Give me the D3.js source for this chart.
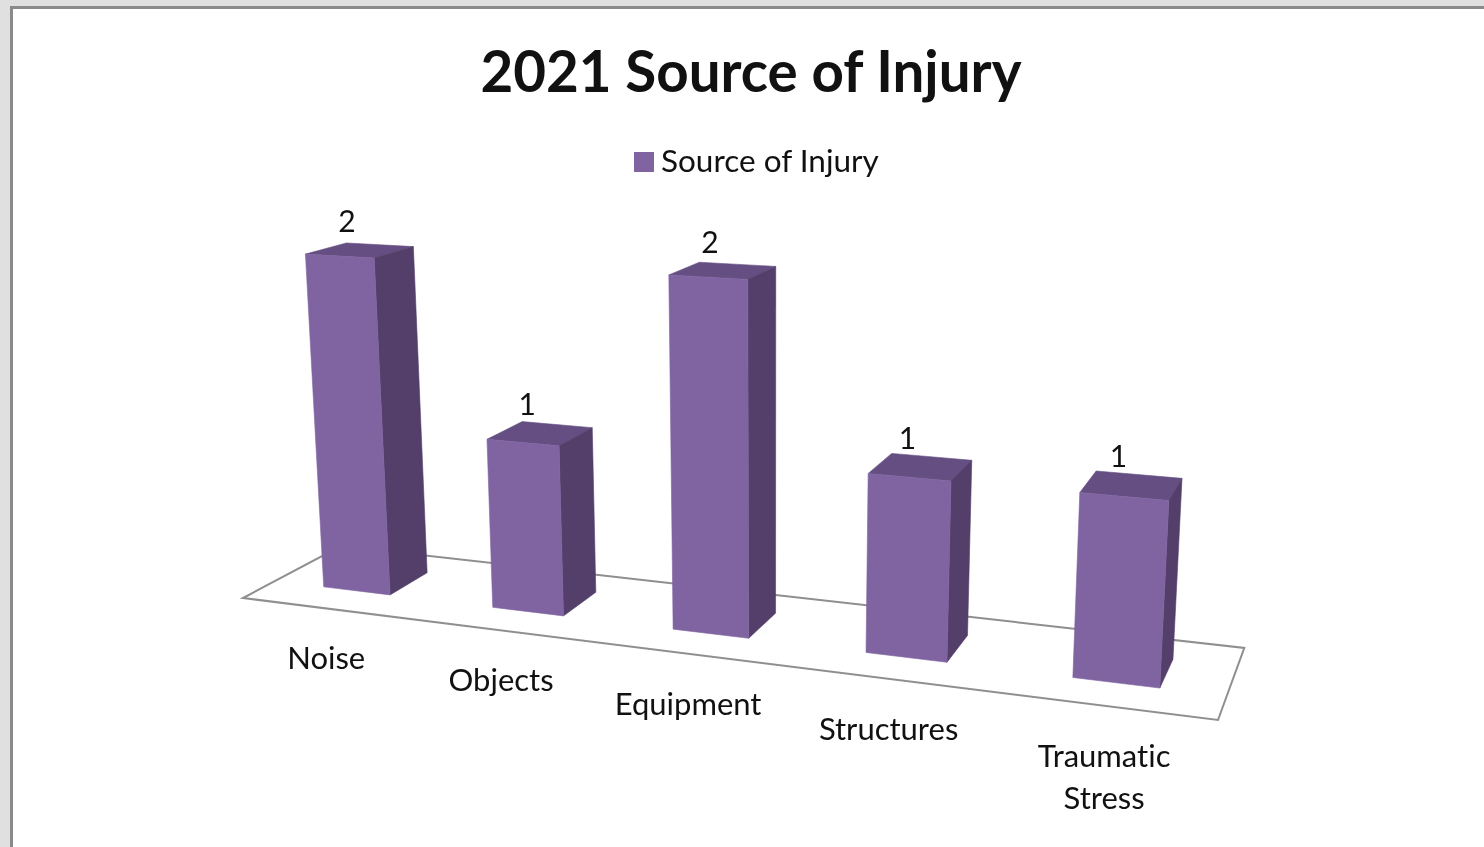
<!DOCTYPE html>
<html><head><meta charset="utf-8">
<script src="https://cdn.jsdelivr.net/npm/d3@7/dist/d3.min.js"></script>
<style>html,body{margin:0;padding:0;background:#e0e0e0;overflow:hidden}svg{display:block;filter:blur(0.5px)}text{font-family:Lato,sans-serif;fill:#111;font-variant-ligatures:none}</style>
</head><body><svg id="c" width="1484" height="847"></svg>
<script>
const title = "2021 Source of Injury";
const seriesName = "Source of Injury";
const categories = ["Noise","Objects","Equipment","Structures","Traumatic Stress"];
const values = [2,1,2,1,1];
const axisMax = 2;

const colors = {front:"#8064a2", top:"#654f82", side:"#533f69", floor:"#8f8f8f"};

// Perspective projection of the chart's 3D box
const O=[243,598], EX=[1218,720], EY=[221,260], EZ=[341,546];
const g=-0.16, h=-0.04, i=0.084;
const vec=(E,k)=>[E[0]*(1+k)-O[0], E[1]*(1+k)-O[1]];
const A=vec(EX,g), B=vec(EY,h), C=vec(EZ,i);
function project(X,Y,Z){
  const w=1+g*X+h*Y+i*Z;
  return [(O[0]+A[0]*X+B[0]*Y+C[0]*Z)/w,(O[1]+A[1]*X+B[1]*Y+C[1]*Z)/w];
}

const x=d3.scaleBand().domain(categories).range([0,1]).paddingInner(0.6).paddingOuter(0.3);
const y=d3.scaleLinear().domain([0,axisMax]).range([0,1]);
const z0=0.31, z1=0.72;

const svg=d3.select("#c");
svg.append("rect").attr("x",10).attr("y",6).attr("width",1474).attr("height",841).attr("fill","#8a8a8a");
svg.append("rect").attr("x",13).attr("y",9).attr("width",1471).attr("height",838).attr("fill","#fff");

const line=d3.line();
const poly=pts=>line(pts)+"Z";

svg.append("path").attr("d",poly([project(0,0,0),project(1,0,0),project(1,0,1),project(0,0,1)]))
  .attr("fill","none").attr("stroke",colors.floor).attr("stroke-width",2);

const face=(sel,col,pts)=>sel.append("path").attr("fill",col).attr("stroke",col).attr("stroke-width",0.6).attr("d",poly(pts));

const bars=svg.selectAll("g.bar").data(categories.map((c,k)=>({c,v:values[k]}))).join("g").attr("class","bar");
bars.each(function(d){
  const g0=d3.select(this), a=x(d.c), b=a+x.bandwidth(), t=y(d.v);
  face(g0,colors.top,[project(a,t,z0),project(b,t,z0),project(b,t,z1),project(a,t,z1)]);
  face(g0,colors.side,[project(b,0,z0),project(b,t,z0),project(b,t,z1),project(b,0,z1)]);
  face(g0,colors.front,[project(a,0,z0),project(b,0,z0),project(b,t,z0),project(a,t,z0)]);
  const tc=project(a+x.bandwidth()/2,t,(z0+z1)/2);
  g0.append("text").attr("x",tc[0]-13).attr("y",tc[1]-18).attr("text-anchor","middle").attr("font-size",30).text(d.v);
  const fc=project(a+x.bandwidth()/2,0,0);
  const words=d.c.split(" ");
  const lab=g0.append("text").attr("text-anchor","middle").attr("font-size",31);
  words.forEach((w,n)=>lab.append("tspan").attr("x",fc[0]).attr("y",fc[1]+61+n*42).text(w));
});

svg.append("text").attr("x",751).attr("y",92).attr("text-anchor","middle").attr("font-size",56.5).attr("font-weight",700).attr("fill","#000").text(title);
svg.append("rect").attr("x",634).attr("y",152).attr("width",20).attr("height",20).attr("fill",colors.front);
svg.append("text").attr("x",661).attr("y",172).attr("font-size",31.5).text(seriesName);
</script></body></html>
